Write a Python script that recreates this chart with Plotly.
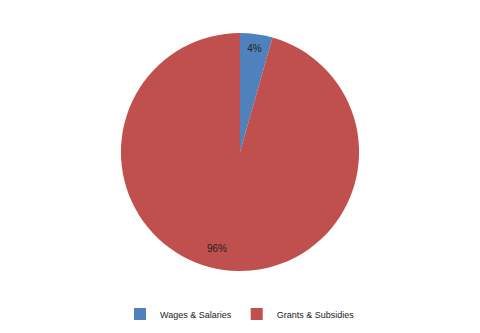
import math
import plotly.graph_objects as go

labels = ["Wages & Salaries", "Grants & Subsidies"]
values = [4.4, 95.6]
colors = ["#4F81BD", "#C0504D"]

dom_y = [0.186, 0.901]
dom_x = [0.252, 0.748]

fig = go.Figure(go.Pie(
    labels=labels, values=values, sort=False, direction="clockwise", rotation=0,
    marker=dict(colors=colors, line=dict(color="#FFFFFF", width=0)),
    texttemplate="%{percent:.0%}", textposition=["inside", "none"],
    insidetextorientation="horizontal",
    textfont=dict(family="Liberation Sans", size=10, color="#222222"),
    domain=dict(x=dom_x, y=dom_y),
    hoverinfo="label+percent",
))

# label for the large slice, placed along its mid angle
total = sum(values)
start = values[0] / total * 360
mid = math.radians(start + values[1] / total * 360 / 2)
W, H = 480, 333
r = (dom_y[1] - dom_y[0]) * H / 2
cx = (dom_x[0] + dom_x[1]) / 2 * W
cy = (1 - (dom_y[0] + dom_y[1]) / 2) * H
rr = 0.84 * r
px = cx + rr * math.sin(mid)
py = cy - rr * math.cos(mid)
fig.add_annotation(x=px / W, y=1 - py / H, xref="paper", yref="paper",
                   text=f"{round(values[1] / total * 100)}%", showarrow=False,
                   xshift=-9, yshift=-5,
                   font=dict(family="Liberation Sans", size=10, color="#222222"))

fig.update_layout(
    width=W, height=H, margin=dict(l=0, r=0, t=0, b=0),
    paper_bgcolor="white", plot_bgcolor="white",
    showlegend=True,
    legend=dict(orientation="h", x=0.5, xanchor="center", y=0.057, yanchor="middle",
                font=dict(family="Liberation Sans", size=9, color="#222222"),
                itemwidth=30),
)
fig.write_html("out.html")
